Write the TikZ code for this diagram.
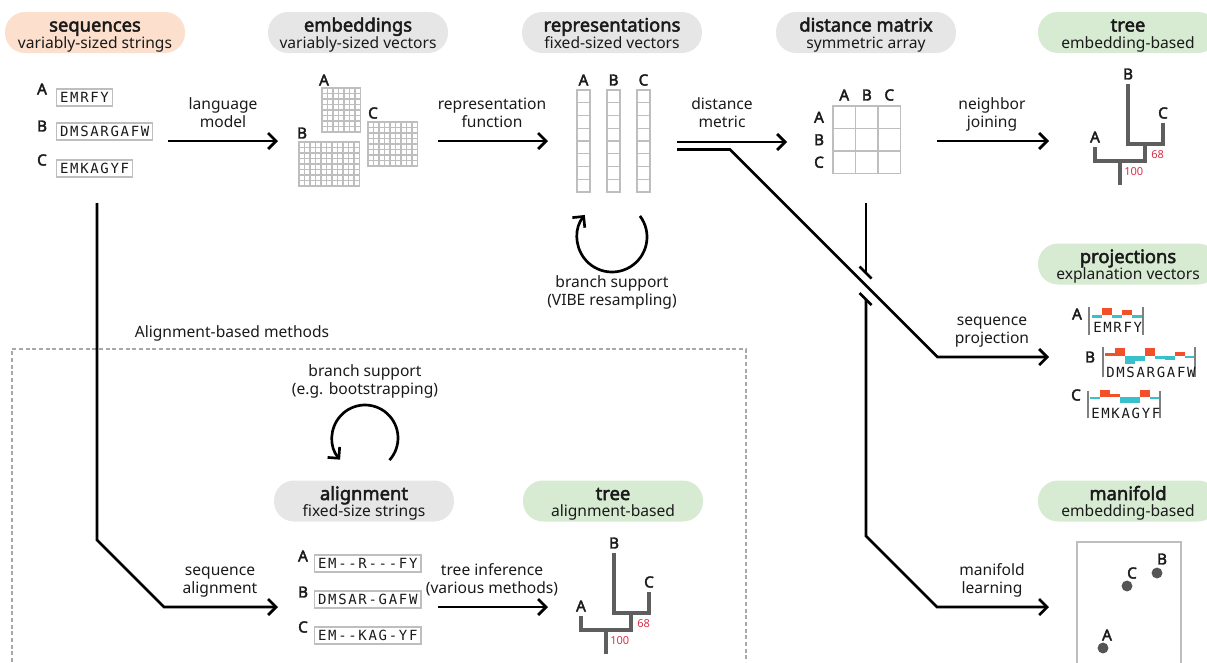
\documentclass[tikz,border=0pt]{standalone}
\usepackage{fontspec}
\setmainfont{Noto Sans}[BoldFont={Noto Sans}, BoldFeatures={FakeBold=2.6}]
\newfontfamily\seqfont[LetterSpace=12,Ligatures=TeXOff]{DejaVu Sans Mono}
\usetikzlibrary{arrows.meta}
\definecolor{txt}{HTML}{1A1A1A}
\definecolor{pillorange}{HTML}{FCDFCC}
\definecolor{pillgray}{HTML}{E6E6E6}
\definecolor{pillgreen}{HTML}{D6EBD2}
\definecolor{gridgray}{HTML}{BEBEBE}
\definecolor{treegray}{HTML}{5E5E5E}
\definecolor{suppred}{HTML}{D8304A}
\definecolor{projred}{HTML}{F2502A}
\definecolor{projcyan}{HTML}{38C0CD}
\definecolor{dashgray}{HTML}{A8A8A8}
\definecolor{dotgray}{HTML}{555555}

\newcommand{\headpill}[6]{%
  \node[pill, fill=#4] (#1) at (#2,#3) {};
  \node[ttl, anchor=base] (#1-t) at (#2,#3-1) {#5};
  \node[sub, anchor=base] (#1-s) at (#2,#3+15.5) {#6};
}
\newcommand{\embgrid}[4]{%
  \fill[white] (#1,#2) rectangle ({#1+#3*5.5},{#2+#4*5.5});
  \foreach \i in {0,...,#3}{\draw[gridline] ({#1+\i*5.5},#2) -- ({#1+\i*5.5},{#2+#4*5.5});}
  \foreach \j in {0,...,#4}{\draw[gridline] (#1,{#2+\j*5.5}) -- ({#1+#3*5.5},{#2+\j*5.5});}
}
\newcommand{\phylo}[3]{%
  \begin{scope}[shift={(#2,#3)}]
    \draw[treeline] (0,0) -- (0,60) -- (35,60) -- (35,39);
    \draw[treeline] (-33,63) -- (-33,77) -- (17,77) -- (17,60);
    \draw[treeline] (-8,77) -- (-8,101);
    \node[letter] (#1-B) at (0,-10) {B};
    \node[letter] (#1-C) at (35,29) {C};
    \node[letter] (#1-A) at (-33,53) {A};
    \node[supp, anchor=west] (#1-68) at (23,71) {68};
    \node[supp, anchor=west] (#1-100) at (-4,88) {100};
  \end{scope}
}

\begin{document}
\begin{tikzpicture}[x=0.75pt,y=-0.75pt,
  pill/.style={rounded corners=15pt, minimum width=135pt, minimum height=30.75pt, inner sep=0pt, draw=none},
  ttl/.style={font=\fontsize{13.8}{15}\selectfont\bfseries, text=txt, inner sep=0pt},
  sub/.style={font=\fontsize{11.7}{13}\selectfont, text=txt, inner sep=0pt},
  lbl/.style={font=\fontsize{11.7}{13.5}\selectfont, text=txt, align=center, inner sep=0pt, text depth=3pt},
  letter/.style={font=\fontsize{11.5}{13}\selectfont\bfseries, text=txt, inner sep=0pt},
  seqbox/.style={draw=gridgray, line width=1.1pt, font={\seqfont\fontsize{10.5}{12}\selectfont}, text=txt,
     inner xsep=2.5pt, inner ysep=2.5pt, text height=7.7pt, text depth=0pt, anchor=west},
  ptext/.style={font={\seqfont\fontsize{10.5}{12}\selectfont}, text=txt, inner sep=0pt, anchor=west},
  flow/.style={line width=2pt, draw=black},
  arr/.style={flow, -{Straight Barb[length=6pt,width=12pt]}},
  gridline/.style={draw=gridgray, line width=0.9pt, line cap=rect},
  treeline/.style={draw=treegray, line width=3pt},
  supp/.style={font=\fontsize{8.3}{10}\selectfont, text=suppred, inner sep=0pt},
  pbar/.style={draw=gray, line width=0.9pt},
  dot/.style={circle, fill=dotgray, minimum size=8.2pt, inner sep=0pt}
]
\useasboundingbox (0,0) rectangle (1207,662);
\clip (0,0) rectangle (1207,662);

% dashed region
\draw[dashgray, line width=0.9pt, dash pattern=on 3pt off 2pt] (12,662) -- (12,349) -- (746,349) -- (746,662);
\node[sub, anchor=base] (alm) at (232,337.5) {Alignment-based methods};

% header pills
\headpill{hseq}{95}{32.5}{pillorange}{sequences}{variably-sized strings}
\headpill{hemb}{358}{32.5}{pillgray}{embeddings}{variably-sized vectors}
\headpill{hrep}{612}{32.5}{pillgray}{representations}{fixed-sized vectors}
\headpill{hdist}{866}{32.5}{pillgray}{distance matrix}{symmetric array}
\headpill{htree}{1128}{32.5}{pillgreen}{tree}{embedding-based}
\headpill{hproj}{1128}{264}{pillgreen}{projections}{explanation vectors}
\headpill{hman}{1128}{501}{pillgreen}{manifold}{embedding-based}
\headpill{hali}{364}{501}{pillgray}{alignment}{fixed-size strings}
\headpill{htreeA}{613}{501}{pillgreen}{tree}{alignment-based}

% sequences
\node[letter] (sA) at (42,89) {A};
\node[seqbox] (sA-box) at (56,97.5) {EMRFY};
\node[letter] (sB) at (42,126) {B};
\node[seqbox] (sB-box) at (56,131.5) {DMSARGAFW};
\node[letter] (sC) at (42,160) {C};
\node[seqbox] (sC-box) at (56,168.5) {EMKAGYF};

% embeddings
\embgrid{322}{88}{7}{8}
\embgrid{299}{142}{11}{8}
\embgrid{368}{122}{9}{8}
\node[letter] (eA) at (324,80) {A};
\node[letter] (eB) at (302,133) {B};
\node[letter] (eC) at (373,113) {C};

% representations
\foreach \cx/\nm in {577/A,607/B,637/C}{
  \fill[white] (\cx,90) rectangle ({\cx+13},192);
  \foreach \k in {0,...,8}{\draw[gridline] (\cx,{90+\k*12.75}) -- ({\cx+13},{90+\k*12.75});}
  \draw[gridline] (\cx,90) -- (\cx,192);
  \draw[gridline] ({\cx+13},90) -- ({\cx+13},192);
  \node[letter] (r\nm) at ({\cx+6.5},80) {\nm};
}

% distance matrix
\foreach \k in {0,1,2,3}{
  \draw[gridline, line width=1.1pt] ({833+\k*22.5},106) -- ({833+\k*22.5},173.5);
  \draw[gridline, line width=1.1pt] (833,{106+\k*22.5}) -- (900.5,{106+\k*22.5});
}
\foreach \nm [count=\k from 0] in {A,B,C}{
  \node[letter] (dc\nm) at ({844.25+\k*22.5},95) {\nm};
  \node[letter] (dr\nm) at (819,{117.25+\k*22.5}) {\nm};
}

% trees
\phylo{treeE}{1128}{84}
\phylo{treeA}{614}{553}

% projections
\node[letter] (pA) at (1077,314) {A};
\draw[pbar] (1089,307) -- (1089,335);
\draw[pbar] (1143,307) -- (1143,335);
\fill[projcyan] (1092,314.5) rectangle (1102,317.5);
\fill[projred] (1102,314.5) rectangle (1112,307.5);
\fill[projcyan] (1112,314.5) rectangle (1122,317.5);
\fill[projred] (1122,314.5) rectangle (1132,309.5);
\fill[projcyan] (1132,314.5) rectangle (1142,317.5);
\node[ptext] (pA-t) at (1093,327) {EMRFY};

\node[letter] (pB) at (1090,357) {B};
\draw[pbar] (1103,347) -- (1103,377);
\draw[pbar] (1195,347) -- (1195,377);
\fill[projred] (1105,356) rectangle (1115,353);
\fill[projred] (1115,356) rectangle (1125,348);
\fill[projcyan] (1125,356) rectangle (1135,364);
\fill[projcyan] (1135,356) rectangle (1145,361);
\fill[projred] (1145,356) rectangle (1155,348);
\fill[projcyan] (1155,356) rectangle (1165,358.5);
\fill[projcyan] (1165,356) rectangle (1175,359.5);
\fill[projred] (1175,356) rectangle (1185,352);
\fill[projcyan] (1185,356) rectangle (1194,357.5);
\node[ptext] (pB-t) at (1106,372) {DMSARGAFW};

\node[letter] (pC) at (1076,395) {C};
\draw[pbar] (1088,391) -- (1088,418);
\draw[pbar] (1160,391) -- (1160,418);
\fill[projcyan] (1090,397) rectangle (1100,398.5);
\fill[projred] (1100,397) rectangle (1110,390);
\fill[projred] (1110,397) rectangle (1120,394);
\fill[projcyan] (1120,397) rectangle (1130,403);
\fill[projcyan] (1130,397) rectangle (1140,403);
\fill[projred] (1140,397) rectangle (1150,390);
\fill[projcyan] (1150,397) rectangle (1159,398.5);
\node[ptext] (pC-t) at (1091,413) {EMKAGYF};

% manifold
\draw[gridgray, line width=1.1pt] (1077,542) rectangle (1181,680);
\node[dot] (mB) at (1157,573) {};
\node[dot] (mC) at (1127,586) {};
\node[dot] (mA) at (1103,648) {};
\node[letter] (mBl) at (1162,559) {B};
\node[letter] (mCl) at (1132,573) {C};
\node[letter] (mAl) at (1107,635) {A};

% alignment
\node[letter] (aA) at (303,556) {A};
\node[seqbox] (aA-box) at (314,563.5) {EM--R---FY};
\node[letter] (aB) at (303,592) {B};
\node[seqbox] (aB-box) at (314,599.5) {DMSAR-GAFW};
\node[letter] (aC) at (303,627) {C};
\node[seqbox] (aC-box) at (314,635.5) {EM--KAG-YF};

% flows
\coordinate (f1s) at (168,141); \coordinate (f1e) at (278,141);
\draw[arr] (f1s) -- (f1e);
\node[lbl, anchor=south] (l1) at (223,131.5) {language\\model};

\coordinate (f2s) at (438,141); \coordinate (f2e) at (548,141);
\draw[arr] (f2s) -- (f2e);
\node[lbl, anchor=south] (l2) at (492,131.5) {representation\\function};

\coordinate (f3s) at (677,142); \coordinate (f3e) at (787,142);
\draw[arr] (f3s) -- (f3e);
\node[lbl, anchor=south] (l3) at (722,131.5) {distance\\metric};

\coordinate (f4s) at (937,141); \coordinate (f4e) at (1049,141);
\draw[arr] (f4s) -- (f4e);
\node[lbl, anchor=south] (l4) at (992,131.5) {neighbor\\joining};

\coordinate (f5s) at (677,149.5); \coordinate (f5a) at (730,149.5);
\coordinate (f5b) at (937.5,357); \coordinate (f5e) at (1049,357);
\draw[arr] (f5s) -- (f5a) -- (f5b) -- (f5e);
\node[lbl, anchor=south] (l5) at (992,347.5) {sequence\\projection};

\coordinate (f6s) at (866,203); \coordinate (f6g1) at (866,272.5);
\coordinate (f6g2) at (866,299); \coordinate (f6a) at (866,536);
\coordinate (f6b) at (937,607); \coordinate (f6e) at (1049,607);
\draw[flow] (f6s) -- (f6g1);
\draw[arr] (f6g2) -- (f6a) -- (f6b) -- (f6e);
\draw[flow] (859.5,266.5) -- (871.5,278.5);
\draw[flow] (859.5,293) -- (871.5,305);
\node[lbl, anchor=south] (l6) at (992,597.5) {manifold\\learning};

\coordinate (f7s) at (97,203); \coordinate (f7a) at (97,540);
\coordinate (f7b) at (164,607); \coordinate (f7e) at (278,607);
\draw[arr] (f7s) -- (f7a) -- (f7b) -- (f7e);
\node[lbl, anchor=south] (l7) at (220,597.5) {sequence\\alignment};

\coordinate (f8s) at (438,607); \coordinate (f8e) at (548,607);
\draw[arr] (f8s) -- (f8e);
\node[lbl, anchor=south] (l8) at (492,598) {tree inference\\(various methods)};

% resampling loops
\draw[arr] ([shift={(37:26.25pt)}]612,237) arc[start angle=37, end angle=-219, radius=26.25pt];
\node[lbl, anchor=south] (l9) at (612,310) {branch support\\(VIBE resampling)};

\draw[arr] ([shift={(-42:24.75pt)}]365,438) arc[start angle=-42, end angle=221, radius=24.75pt];
\node[lbl, anchor=south] (l10) at (365,398.5) {branch support\\(e.g. bootstrapping)};

\end{tikzpicture}
\end{document}
